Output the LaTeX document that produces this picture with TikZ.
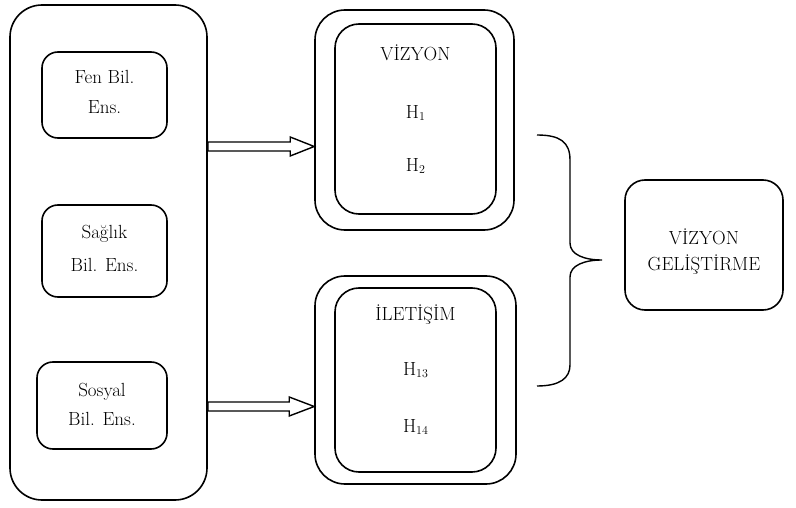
\documentclass[tikz,border=0pt]{standalone}
\usepackage{fontspec}
\usetikzlibrary{calc}
\newcommand{\subdig}[1]{\raisebox{-1.5pt}{\fontsize{12}{12}\selectfont #1}}
\begin{document}
\begin{tikzpicture}[x=1pt,y=-1pt, line width=1.6pt,
  rbox/.style={draw, rounded corners=#1, inner sep=0pt},
  txt/.style={font=\fontsize{19}{22}\selectfont, align=center, inner sep=0pt},
  hollow/.style={draw, fill=white, line join=miter, line width=1.4pt}]
\useasboundingbox (0,0) rectangle (796,508);
% left column
\node[rbox=32pt, minimum width=197pt, minimum height=495pt] (big) at (108.5,252.5) {};
\node[rbox=16pt, minimum width=125pt, minimum height=86pt] (fen) at (104.5,95) {};
\node[rbox=16pt, minimum width=125pt, minimum height=92pt] (sag) at (104.5,251) {};
\node[rbox=16pt, minimum width=130pt, minimum height=87pt] (sos) at (102,405.5) {};
\node[txt] (fen1) at (104.5,77) {Fen Bil.};
\node[txt] (fen2) at (104.5,107) {Ens.};
\node[txt] (sag1) at (104.5,234) {Sağlık};
\node[txt] (sag2) at (104.5,265) {Bil. Ens.};
\node[txt] (sos1) at (102,392) {Sosyal};
\node[txt] (sos2) at (102,419) {Bil. Ens.};
% top group
\node[rbox=30pt, minimum width=199pt, minimum height=220pt] (vo) at (414.5,120) {};
\node[rbox=24pt, minimum width=161pt, minimum height=190pt] (vi) at (415.5,119) {};
\node[txt] (vt) at (415.5,53) {VİZYON};
\node[txt] (h1) at (415.5,113) {H\subdig{1}};
\node[txt] (h2) at (415.5,166) {H\subdig{2}};
% bottom group
\node[rbox=30pt, minimum width=201pt, minimum height=208pt] (io) at (415.5,380) {};
\node[rbox=24pt, minimum width=161pt, minimum height=184pt] (ii) at (415.5,380) {};
\node[txt] (it) at (415.5,315) {İLETİŞİM};
\node[txt] (h13) at (415.5,370) {H\subdig{13}};
\node[txt] (h14) at (415.5,427) {H\subdig{14}};
% right box
\node[rbox=20pt, minimum width=158pt, minimum height=130pt] (vg) at (704,245) {};
\node[txt] (vg1) at (704,237) {VİZYON};
\node[txt] (vg2) at (704,265) {GELİŞTİRME};
% arrows
\coordinate (t1) at (vo.west |- 0,146.5);
\draw[hollow] (t1) -- ++(-24,-9.5) coordinate (a1) -- ++(0,5) coordinate (a2)
  -- (a2 -| big.east) -- ++(0,9) coordinate (a3) -- (a3 -| a1) -- ++(0,5) -- cycle;
\coordinate (t2) at (io.west |- 0,406.5);
\draw[hollow] (t2) -- ++(-25,-9.5) coordinate (b1) -- ++(0,5) coordinate (b2)
  -- (b2 -| big.east) -- ++(0,9) coordinate (b3) -- (b3 -| b1) -- ++(0,5) -- cycle;
% brace
\draw[line width=1.4pt] (537,135) .. controls (560,135) and (570,142) .. (570,160)
  -- (570,243) .. controls (570,255) and (585,260) .. (602,260)
  .. controls (585,260) and (570,265) .. (570,277)
  -- (570,365) .. controls (570,378) and (560,386) .. (537,386);
\end{tikzpicture}
\end{document}
